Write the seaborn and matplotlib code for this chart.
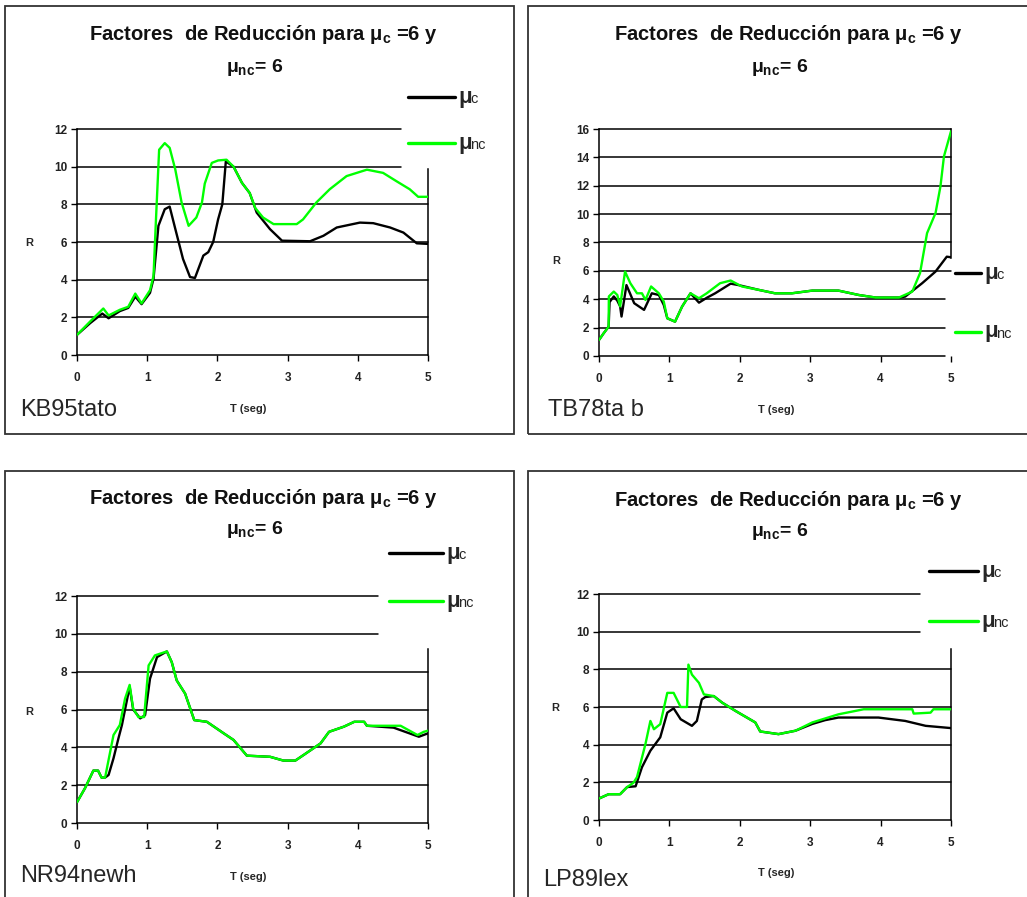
import matplotlib
matplotlib.use("Agg")
import matplotlib.pyplot as plt
from matplotlib.lines import Line2D
from matplotlib.patches import Rectangle
import seaborn as sns

# ---- data (T in s, R) ----
kb_t_c = [0, 0.19, 0.36, 0.45, 0.61, 0.73, 0.83, 0.92, 1.04, 1.09, 1.16, 1.25, 1.32, 1.40, 1.51, 1.61,
          1.68, 1.80, 1.87, 1.94, 2.01, 2.07, 2.12, 2.23, 2.35, 2.46, 2.56, 2.75, 2.92, 3.32, 3.51, 3.70,
          4.03, 4.22, 4.46, 4.65, 4.84, 5.0]
kb_r_c = [1.07, 1.7, 2.2, 1.95, 2.33, 2.5, 3.1, 2.7, 3.3, 4.05, 6.86, 7.74, 7.88, 6.7, 5.1, 4.14,
          4.09, 5.28, 5.46, 6.0, 7.2, 8.0, 10.28, 10.0, 9.14, 8.6, 7.56, 6.68, 6.07, 6.04, 6.33, 6.77,
          7.03, 7.0, 6.77, 6.5, 5.93, 5.9]
kb_t_nc = [0, 0.185, 0.375, 0.45, 0.61, 0.73, 0.83, 0.92, 1.04, 1.09, 1.125, 1.17, 1.25, 1.32, 1.40,
           1.49, 1.59, 1.70, 1.78, 1.82, 1.92, 2.01, 2.13, 2.23, 2.35, 2.46, 2.54, 2.65, 2.80, 3.13,
           3.22, 3.41, 3.60, 3.84, 4.13, 4.36, 4.55, 4.74, 4.86, 5.0]
kb_r_nc = [1.07, 1.77, 2.47, 2.1, 2.4, 2.56, 3.26, 2.74, 3.44, 4.2, 7.2, 10.9, 11.25, 11.0, 9.85,
           8.1, 6.86, 7.3, 8.1, 9.1, 10.2, 10.33, 10.37, 10.0, 9.14, 8.6, 7.8, 7.3, 6.95, 6.95,
           7.2, 8.1, 8.8, 9.5, 9.84, 9.67, 9.23, 8.8, 8.4, 8.4]

tb_t_c = [0, 0.066, 0.137, 0.15, 0.21, 0.26, 0.30, 0.32, 0.39, 0.50, 0.64, 0.75, 0.85, 0.92, 0.97,
          1.08, 1.18, 1.30, 1.42, 1.53, 1.65, 1.87, 1.98, 2.27, 2.50, 2.74, 3.03, 3.40, 3.69, 3.93,
          4.26, 4.35, 4.59, 4.78, 4.94, 5.0]
tb_r_c = [1.13, 1.6, 2.07, 3.8, 4.2, 3.9, 3.5, 2.78, 5.0, 3.72, 3.25, 4.42, 4.3, 3.6, 2.66,
          2.42, 3.48, 4.42, 3.76, 4.1, 4.42, 5.1, 5.0, 4.66, 4.42, 4.42, 4.61, 4.61, 4.3, 4.12,
          4.12, 4.19, 5.13, 5.95, 7.0, 6.96]
tb_t_nc = [0, 0.066, 0.137, 0.14, 0.21, 0.26, 0.30, 0.37, 0.445, 0.54, 0.61, 0.66, 0.74, 0.85, 0.92,
           0.97, 1.08, 1.18, 1.30, 1.42, 1.53, 1.72, 1.87, 2.03, 2.27, 2.50, 2.74, 3.03, 3.40, 3.69,
           3.93, 4.26, 4.45, 4.56, 4.66, 4.78, 4.85, 4.90, 5.0]
tb_r_nc = [1.13, 1.6, 2.07, 4.2, 4.54, 4.3, 3.5, 5.95, 5.13, 4.42, 4.42, 3.95, 4.9, 4.42, 3.84,
           2.66, 2.42, 3.48, 4.42, 4.07, 4.42, 5.13, 5.32, 4.9, 4.66, 4.42, 4.42, 4.61, 4.61, 4.3,
           4.12, 4.12, 4.54, 5.84, 8.66, 10.07, 11.95, 14.07, 15.84]

nr_t_c = [0, 0.114, 0.233, 0.30, 0.35, 0.40, 0.45, 0.52, 0.59, 0.64, 0.75, 0.80, 0.90, 0.97, 1.04,
          1.14, 1.28, 1.35, 1.42, 1.54, 1.67, 1.85, 2.09, 2.23, 2.42, 2.75, 2.94, 3.11, 3.23, 3.47,
          3.59, 3.80, 3.95, 4.09, 4.13, 4.51, 4.87, 5.0]
nr_r_c = [1.1, 1.84, 2.77, 2.77, 2.4, 2.4, 2.54, 3.42, 4.47, 5.18, 7.2, 6.0, 5.53, 5.7, 7.63,
          8.77, 9.07, 8.5, 7.54, 6.84, 5.44, 5.35, 4.74, 4.39, 3.56, 3.5, 3.3, 3.3, 3.6, 4.21,
          4.82, 5.09, 5.35, 5.35, 5.14, 5.04, 4.56, 4.74]
nr_t_nc = [0, 0.114, 0.233, 0.30, 0.35, 0.40, 0.52, 0.61, 0.685, 0.75, 0.80, 0.875, 0.956, 1.02, 1.11,
           1.28, 1.35, 1.42, 1.54, 1.67, 1.85, 2.09, 2.23, 2.42, 2.75, 2.94, 3.11, 3.23, 3.47, 3.59,
           3.80, 3.95, 4.09, 4.13, 4.61, 4.85, 4.94, 5.0]
nr_r_nc = [1.1, 1.84, 2.77, 2.77, 2.4, 2.4, 4.65, 5.18, 6.58, 7.3, 6.05, 5.6, 5.6, 8.33, 8.86,
           9.07, 8.5, 7.54, 6.84, 5.44, 5.35, 4.74, 4.39, 3.56, 3.5, 3.3, 3.3, 3.6, 4.21, 4.82,
           5.09, 5.35, 5.35, 5.14, 5.14, 4.65, 4.82, 4.88]

lp_t_c = [0, 0.137, 0.30, 0.40, 0.52, 0.61, 0.73, 0.87, 0.97, 1.06, 1.16, 1.32, 1.39, 1.46, 1.51,
          1.63, 1.75, 1.94, 2.22, 2.29, 2.55, 2.79, 3.03, 3.21, 3.40, 3.97, 4.35, 4.64, 5.0]
lp_r_c = [1.14, 1.37, 1.37, 1.75, 1.79, 2.8, 3.68, 4.39, 5.7, 5.93, 5.35, 5.0, 5.26, 6.4, 6.53,
          6.58, 6.23, 5.79, 5.18, 4.7, 4.56, 4.74, 5.1, 5.3, 5.44, 5.44, 5.26, 5.0, 4.88]
lp_t_nc = [0, 0.137, 0.30, 0.40, 0.49, 0.54, 0.66, 0.73, 0.78, 0.87, 0.97, 1.06, 1.16, 1.25, 1.27,
           1.32, 1.42, 1.49, 1.63, 1.75, 1.94, 2.22, 2.29, 2.55, 2.79, 3.03, 3.40, 3.76, 4.45, 4.47,
           4.71, 4.75, 5.0]
lp_r_nc = [1.14, 1.37, 1.37, 1.75, 1.98, 2.28, 4.04, 5.26, 4.82, 5.09, 6.75, 6.75, 6.0, 6.0, 8.25,
           7.72, 7.28, 6.67, 6.58, 6.23, 5.79, 5.18, 4.7, 4.56, 4.74, 5.18, 5.61, 5.88, 5.88, 5.65,
           5.7, 5.88, 5.88]

W, H = 1027, 897
sns.set_theme(style="white")
plt.rcParams["font.family"] = ["Liberation Sans", "DejaVu Sans"]
plt.rcParams["mathtext.fontset"] = "custom"
plt.rcParams["mathtext.rm"] = "Liberation Sans:bold"
plt.rcParams["mathtext.it"] = "Liberation Sans:bold"

fig = plt.figure(figsize=(W / 100, H / 100), dpi=100)


def fx(x):
    return x / W


def fy(y):
    return 1 - y / H


GREEN = "#00ff00"

panels = [
    dict(name="KB95tato", c=(kb_t_c, kb_r_c), nc=(kb_t_nc, kb_r_nc),
         ax=(77, 428, 355, 129), ymax=12, box=(5, 6, 514, 434),
         short={12: 0.923, 10: 0.923}, spine=9.85,
         leg=(408, 455, 97, 143), rlab=(29, 243), tlab=(248, 409), plab=(20, 410),
         title_y=(35, 67), title_x=263),
    dict(name="TB78ta b", c=(tb_t_c, tb_r_c), nc=(tb_t_nc, tb_r_nc),
         ax=(599, 951, 356, 129), ymax=16, box=(528, 6, 1040, 434),
         short={0: 0.983, 2: 0.983, 4: 0.983}, spine=16.0, spine_lo=6.9,
         leg=(955, 981, 273, 332), rlab=(556, 261), tlab=(776, 410), plab=(548, 410),
         title_y=(35, 67), title_x=788),
    dict(name="NR94newh", c=(nr_t_c, nr_r_c), nc=(nr_t_nc, nr_r_nc),
         ax=(77, 428, 823, 596), ymax=12, box=(5, 471, 514, 910),
         short={12: 0.857, 10: 0.857}, spine=9.2,
         leg=(389, 443, 553, 601), rlab=(29, 712), tlab=(248, 877), plab=(20, 876),
         title_y=(498, 530), title_x=263),
    dict(name="LP89lex", c=(lp_t_c, lp_r_c), nc=(lp_t_nc, lp_r_nc),
         ax=(599, 951, 820, 594), ymax=12, box=(528, 471, 1040, 910),
         short={12: 0.912, 10: 0.912}, spine=9.1,
         leg=(929, 978, 571, 621), rlab=(555, 708), tlab=(776, 873), plab=(543, 880),
         title_y=(500, 532), title_x=788),
]

for p in panels:
    bx0, by0, bx1, by1 = p["box"]
    fig.add_artist(Rectangle((fx(bx0), fy(by1)), fx(bx1 - bx0), (by1 - by0) / H,
                             fill=False, edgecolor="#333333", lw=1.3, transform=fig.transFigure))

    l, r, y0, yt = p["ax"]
    ax = fig.add_axes([fx(l), fy(y0), (r - l) / W, (y0 - yt) / H])
    ymax = p["ymax"]
    ax.set_xlim(0, 5)
    ax.set_ylim(0, ymax)

    for lev in range(0, ymax + 1, 2):
        ax.axhline(lev, xmin=0, xmax=p["short"].get(lev, 1.0), color="black", lw=1.1, zorder=1,
                   clip_on=False)

    sns.lineplot(x=p["c"][0], y=p["c"][1], ax=ax, color="black", lw=1.7,
                 estimator=None, sort=False, zorder=3)
    sns.lineplot(x=p["nc"][0], y=p["nc"][1], ax=ax, color=GREEN, lw=1.7,
                 estimator=None, sort=False, zorder=4)

    for s in ["top", "bottom"]:
        ax.spines[s].set_visible(False)
    ax.spines["left"].set_color("black")
    ax.spines["left"].set_linewidth(1.1)
    ax.spines["right"].set_color("black")
    ax.spines["right"].set_linewidth(1.1)
    ax.spines["right"].set_bounds(p.get("spine_lo", 0), p["spine"])

    ax.set_xticks(range(0, 6))
    ax.set_yticks(range(0, ymax + 1, 2))
    ax.tick_params(axis="both", direction="out", length=4, width=1.0, color="black",
                   labelsize=8.5, pad=3)
    ax.tick_params(axis="x", pad=8, length=4, bottom=True)
    ax.tick_params(axis="y", left=True)
    for lab in ax.get_xticklabels() + ax.get_yticklabels():
        lab.set_fontweight("bold")
        lab.set_color("#222222")
    ax.set_xlabel("")
    ax.set_ylabel("")
    ax.set_facecolor("none")

    # titles
    ty1, ty2 = p["title_y"]
    fig.text(fx(p["title_x"]), fy(ty1), r"Factores  de Reducción para $\mu_c$ =6 y",
             ha="center", va="center", fontsize=14.5, fontweight="bold", color="#111111")
    fig.text(fx(p["title_x"] - 8), fy(ty2), r"$\mu_{nc}$= 6",
             ha="center", va="center", fontsize=14, fontweight="bold", color="#111111")

    # axis labels and run name
    fig.text(fx(p["rlab"][0]), fy(p["rlab"][1]), "R", ha="center", va="center",
             fontsize=8, fontweight="bold")
    fig.text(fx(p["tlab"][0]), fy(p["tlab"][1]), "T (seg)", ha="center", va="center",
             fontsize=8, fontweight="bold")
    fig.text(fx(p["plab"][0]), fy(p["plab"][1]), p["name"], ha="left", va="center",
             fontsize=17)

    # legend
    lx0, lx1, ly_c, ly_nc = p["leg"]
    for ly, col, sub in [(ly_c, "black", "c"), (ly_nc, GREEN, "nc")]:
        fig.add_artist(Line2D([fx(lx0), fx(lx1)], [fy(ly), fy(ly)], color=col, lw=2.4,
                              transform=fig.transFigure))
        fig.text(fx(lx1 + 3), fy(ly), "μ", ha="left", va="center", fontsize=16,
                 fontweight="bold")
        fig.text(fx(lx1 + 15), fy(ly + 2), sub, ha="left", va="center", fontsize=10.5)

fig.savefig("out.png", dpi=100)
